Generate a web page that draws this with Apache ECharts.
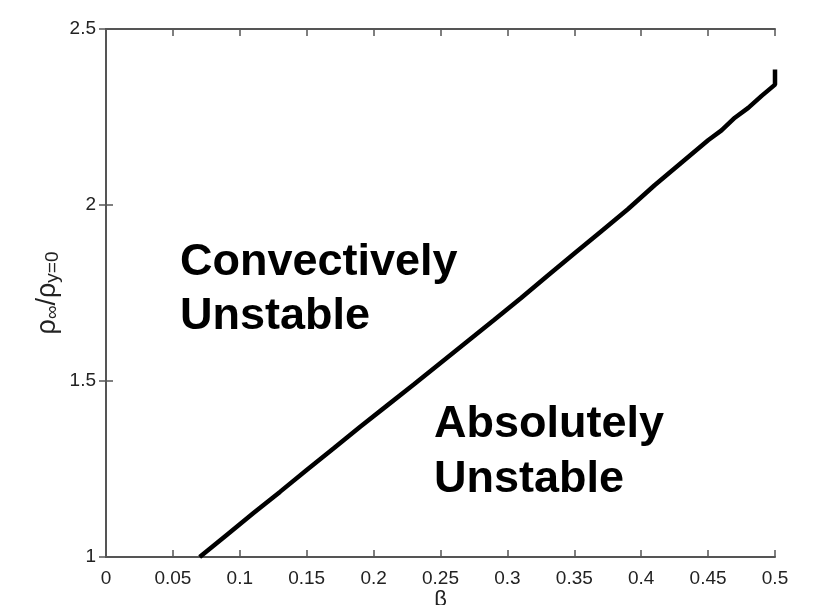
<!DOCTYPE html>
<html><head><meta charset="utf-8">
<script src="https://cdn.jsdelivr.net/npm/echarts@6/dist/echarts.min.js"></script>
<style>html,body{margin:0;padding:0;background:#fff}#c{width:824px;height:605px}</style>
</head><body><div id="c"></div>
<script>
var beta  = [0.07, 0.09, 0.11, 0.13, 0.15, 0.17, 0.19, 0.21, 0.23, 0.25, 0.27, 0.29, 0.31, 0.33, 0.35, 0.37, 0.39, 0.41, 0.43, 0.45, 0.46, 0.47, 0.48, 0.49, 0.50, 0.50];
var ratio = [1.000, 1.062, 1.124, 1.185, 1.247, 1.308, 1.370, 1.430, 1.490, 1.551, 1.612, 1.673, 1.735, 1.799, 1.862, 1.925, 1.988, 2.056, 2.120, 2.184, 2.212, 2.248, 2.276, 2.310, 2.342, 2.385];
var xTicks = [0, 0.05, 0.1, 0.15, 0.2, 0.25, 0.3, 0.35, 0.4, 0.45, 0.5];
var yTicks = [1, 1.5, 2, 2.5];
var regionLabels = [["Convectively", "Unstable"], ["Absolutely", "Unstable"]];

var chart = echarts.init(document.getElementById('c'));
var FF = 'Liberation Sans, Arial, sans-serif';
var lblStyle = {color: '#222', fontFamily: FF, fontSize: 19};
var common = {
  axisLine: {show: true, lineStyle: {color: '#555', width: 2}},
  axisTick: {show: true, inside: true, length: 7, lineStyle: {color: '#555', width: 1.5}},
  splitLine: {show: false}
};
var fmt = function (v) { return String(v); };
chart.setOption({
  backgroundColor: '#fff',
  animation: false,
  grid: {left: 106, right: 49, top: 29, bottom: 48, containLabel: false, outerBoundsMode: 'none'},
  xAxis: [
    Object.assign({type: 'value', min: 0, max: 0.5, interval: 0.05, position: 'bottom',
      name: 'β', nameLocation: 'middle', nameGap: 32, nameMoveOverlap: false,
      nameTextStyle: {color: '#222', fontFamily: FF, fontSize: 22},
      axisLabel: Object.assign({margin: 12, formatter: fmt}, lblStyle)}, common),
    Object.assign({type: 'value', min: 0, max: 0.5, interval: 0.05, position: 'top',
      axisLabel: {show: false}}, common)
  ],
  yAxis: [
    Object.assign({type: 'value', min: 1, max: 2.5, interval: 0.5, position: 'left',
      name: '{a|ρ}{s|∞}{a|/ρ}{s|y=0}', nameLocation: 'middle', nameGap: 44, nameRotate: 90, nameMoveOverlap: false,
      nameTextStyle: {rich: {
        a: {fontSize: 27, color: '#222', fontFamily: FF, verticalAlign: 'top', lineHeight: 28},
        s: {fontSize: 19, color: '#222', fontFamily: FF, verticalAlign: 'bottom', lineHeight: 19, padding: [14, 0, 0, 0]}
      }},
      axisLabel: Object.assign({margin: 10, formatter: fmt}, lblStyle)}, common),
    Object.assign({type: 'value', min: 1, max: 2.5, interval: 0.5, position: 'right',
      axisLabel: {show: false}}, common)
  ],
  series: [{
    type: 'line',
    data: beta.map(function (b, i) { return [b, ratio[i]]; }),
    showSymbol: false,
    lineStyle: {color: '#000', width: 4.5},
    clip: true
  }],
  graphic: [
    {type: 'text', left: 180, top: 236, style: {text: regionLabels[0].join('\n'), fill: '#000',
      font: 'bold 45px "Liberation Sans", Arial, sans-serif', lineHeight: 54}},
    {type: 'text', left: 434, top: 397, style: {text: regionLabels[1].join('\n'), fill: '#000',
      font: 'bold 45px "Liberation Sans", Arial, sans-serif', lineHeight: 55}}
  ]
});
</script></body></html>
